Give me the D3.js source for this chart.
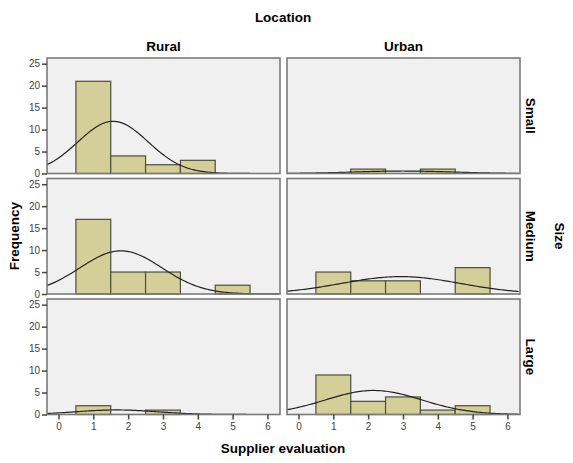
<!DOCTYPE html>
<html>
<head>
<meta charset="utf-8">
<script src="https://d3js.org/d3.v7.min.js"></script>
<style>
  body { margin: 0; background: #fff; }
  text { font-family: "Liberation Sans", Arial, sans-serif; }
</style>
</head>
<body>
<div id="chart"></div>
<script>
  // Data: frequency of each supplier evaluation score (1..5) per panel
  var locations = ["Rural", "Urban"];
  var sizes = ["Small", "Medium", "Large"];
  var scores = [1, 2, 3, 4, 5];

  var ruralSmall  = [21, 4, 2, 3, 0];
  var ruralMedium = [17, 5, 5, 0, 2];
  var ruralLarge  = [2, 0, 1, 0, 0];
  var urbanSmall  = [0, 1, 0, 1, 0];
  var urbanMedium = [5, 3, 3, 0, 6];
  var urbanLarge  = [9, 3, 4, 1, 2];

  var xTicks = [0, 1, 2, 3, 4, 5, 6];
  var yTicks = [0, 5, 10, 15, 20, 25];

  var counts = {
    Rural: { Small: ruralSmall, Medium: ruralMedium, Large: ruralLarge },
    Urban: { Small: urbanSmall, Medium: urbanMedium, Large: urbanLarge }
  };

  var W = 573, H = 463;
  var colX = [47, 287], colW = 233;
  var rowY = [58, 178.5, 299], rowH = 115.5;
  var titleSize = 13.5;

  var svg = d3.select("#chart").append("svg")
    .attr("width", W)
    .attr("height", H);

  var x = d3.scaleLinear().domain([-0.33, 6.36]).range([0, colW]);
  var y = d3.scaleLinear().domain([0, 26.3]).range([rowH, 0]);

  // stats for the normal curve
  function fit(c) {
    var n = d3.sum(c);
    var mean = d3.sum(c, function(v, i) { return v * scores[i]; }) / n;
    var ss = d3.sum(c, function(v, i) { return v * Math.pow(scores[i] - mean, 2); });
    var sd = Math.sqrt(ss / (n - 1));
    return { n: n, mean: mean, sd: sd };
  }

  locations.forEach(function(loc, ci) {
    sizes.forEach(function(sz, ri) {
      var g = svg.append("g")
        .attr("transform", "translate(" + colX[ci] + "," + rowY[ri] + ")");

      g.append("rect")
        .attr("width", colW)
        .attr("height", rowH)
        .attr("fill", "#f0f0f0");

      var c = counts[loc][sz];
      var bins = scores.map(function(s, i) { return { s: s, v: c[i] }; })
        .filter(function(d) { return d.v > 0; });

      g.selectAll(".bar")
        .data(bins)
        .enter()
        .append("rect")
          .attr("x", function(d) { return x(d.s - 0.5); })
          .attr("y", function(d) { return y(d.v); })
          .attr("width", function(d) { return x(d.s + 0.5) - x(d.s - 0.5); })
          .attr("height", function(d) { return y(0) - y(d.v); })
          .attr("fill", "#d4cf98")
          .attr("stroke", "#4d4d40")
          .attr("stroke-width", 1.2);

      var f = fit(c);
      var pts = d3.range(-0.33, 6.37, 0.05).map(function(t) {
        var z = (t - f.mean) / f.sd;
        return [t, f.n / (f.sd * Math.sqrt(2 * Math.PI)) * Math.exp(-0.5 * z * z)];
      });
      g.append("path")
        .datum(pts)
        .attr("fill", "none")
        .attr("stroke", "#222")
        .attr("stroke-width", 1.2)
        .attr("d", d3.line()
          .x(function(d) { return x(d[0]); })
          .y(function(d) { return y(d[1]); }));

      g.append("rect")
        .attr("width", colW)
        .attr("height", rowH)
        .attr("fill", "none")
        .attr("stroke", "#7a7a7a")
        .attr("stroke-width", 1.6);

      if (ci == 0) {
        var ya = g.append("g")
          .call(d3.axisLeft(y).tickValues(yTicks).tickSize(5).tickPadding(2).tickFormat(d3.format("d")));
        ya.select(".domain").remove();
        ya.selectAll("line").attr("stroke", "#444").attr("stroke-width", 1.5);
        ya.selectAll("text").attr("font-size", 10).attr("fill", "#444")
          .style("font-family", "Liberation Sans, Arial, sans-serif");
      }
      if (ri == 2) {
        var xa = g.append("g")
          .attr("transform", "translate(0," + rowH + ")")
          .call(d3.axisBottom(x).tickValues(xTicks).tickSize(5).tickPadding(3).tickFormat(d3.format("d")));
        xa.select(".domain").remove();
        xa.selectAll("line").attr("stroke", "#444").attr("stroke-width", 1.5);
        xa.selectAll("text").attr("font-size", 10).attr("fill", "#444")
          .style("font-family", "Liberation Sans, Arial, sans-serif");
      }
      if (ri == 0) {
        svg.append("text")
          .attr("x", colX[ci] + colW / 2)
          .attr("y", 51)
          .attr("text-anchor", "middle")
          .attr("font-size", titleSize)
          .attr("font-weight", "bold")
          .text(loc);
      }
      if (ci == 1) {
        svg.append("text")
          .attr("transform", "translate(526," + (rowY[ri] + rowH / 2) + ") rotate(90)")
          .attr("text-anchor", "middle")
          .attr("font-size", titleSize)
          .attr("font-weight", "bold")
          .text(sz);
      }
    });
  });

  svg.append("text")
    .attr("x", 283)
    .attr("y", 22)
    .attr("text-anchor", "middle")
    .attr("font-size", titleSize)
    .attr("font-weight", "bold")
    .text("Location");

  svg.append("text")
    .attr("transform", "translate(555,236) rotate(90)")
    .attr("text-anchor", "middle")
    .attr("font-size", titleSize)
    .attr("font-weight", "bold")
    .text("Size");

  svg.append("text")
    .attr("transform", "translate(19,236) rotate(-90)")
    .attr("text-anchor", "middle")
    .attr("font-size", titleSize)
    .attr("font-weight", "bold")
    .text("Frequency");

  svg.append("text")
    .attr("x", 283)
    .attr("y", 453)
    .attr("text-anchor", "middle")
    .attr("font-size", titleSize)
    .attr("font-weight", "bold")
    .text("Supplier evaluation");
</script>
</body>
</html>
